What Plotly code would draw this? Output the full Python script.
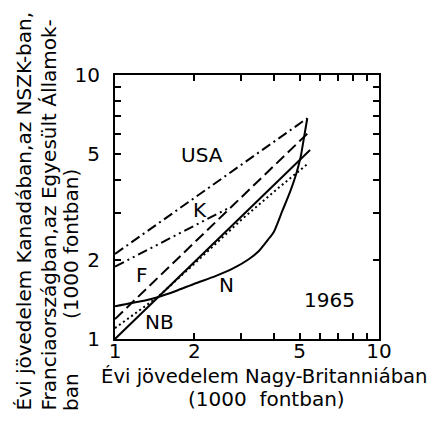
import math
import plotly.graph_objects as go

# Data, incomes in 1000 pounds
usa_x = [1.0, 5.35]
usa_y = [2.10, 6.86]

k_x = [1.0, 2.72]
k_y = [1.88, 3.15]

f_x = [1.0, 5.45]
f_y = [1.19, 6.10]

dot_x = [1.0, 1.2, 1.45, 2.0, 3.0, 4.1, 5.4]
dot_y = [1.10, 1.26, 1.44, 1.93, 2.82, 3.69, 4.63]

nb_x = [1.0, 5.48]
nb_y = [1.0, 5.20]

n_x = [1.0, 1.15, 1.3, 1.45, 1.7, 2.0, 2.4, 2.8, 3.2, 3.5, 3.8, 4.0, 4.3, 4.6, 4.85, 5.05, 5.2, 5.35]
n_y = [1.33, 1.37, 1.40, 1.44, 1.52, 1.62, 1.73, 1.85, 2.0, 2.15, 2.38, 2.55, 3.05, 3.6, 4.2, 4.9, 5.8, 6.86]

tick_vals = [1, 2, 3, 4, 5, 6, 7, 8, 9, 10]
tick_text = ["1", "2", "", "", "5", "", "", "", "", "10"]

label_text = ["USA", "K", "F", "N", "NB", "1965"]
label_x = [2.13, 2.10, 1.26, 2.65, 1.48, 6.52]
label_y = [4.98, 3.08, 1.75, 1.60, 1.16, 1.41]

FONT = "DejaVu Sans"
fig = go.Figure()
LW = 2
fig.add_trace(go.Scatter(x=usa_x, y=usa_y, mode="lines", line=dict(color="black", width=LW, dash="10px,4px,2px,4px")))
fig.add_trace(go.Scatter(x=k_x, y=k_y, mode="lines", line=dict(color="black", width=LW, dash="10px,4px,2px,4px,2px,4px")))
fig.add_trace(go.Scatter(x=f_x, y=f_y, mode="lines", line=dict(color="black", width=LW, dash="11px,5px")))
fig.add_trace(go.Scatter(x=dot_x, y=dot_y, mode="lines", line=dict(color="black", width=LW, dash="2px,3px")))
fig.add_trace(go.Scatter(x=nb_x, y=nb_y, mode="lines", line=dict(color="black", width=LW)))
fig.add_trace(go.Scatter(x=n_x, y=n_y, mode="lines", line=dict(color="black", width=LW, shape="spline", smoothing=0.6)))

for t, x, y in zip(label_text, label_x, label_y):
    fig.add_annotation(x=math.log10(x), y=math.log10(y), xref="x", yref="y", text=t,
                       showarrow=False, font=dict(family=FONT, size=20, color="black"))

axis_common = dict(type="log", range=[0, 1], showline=True, linecolor="black", linewidth=2, mirror="ticks",
                   ticks="inside", ticklen=6, tickwidth=1.5, tickcolor="black", tickvals=tick_vals, ticktext=tick_text,
                   showgrid=False, zeroline=False, automargin=False,
                   tickfont=dict(family=FONT, size=20, color="black"))
fig.update_xaxes(**axis_common, ticklabelstandoff=-7)
fig.update_yaxes(**axis_common, ticklabelstandoff=9)

# page body has an 8px margin; screen coords -> figure coords
FW, FH = 427, 415
L, T, W = 107, 67, 264
def px(sx):
    return (sx - 8 - L) / W
def py(sy):
    return (T + W - (sy - 8)) / W

tf = dict(family=FONT, size=20, color="black")
xf = dict(family=FONT, size=19.6, color="black")
fig.add_annotation(xref="paper", yref="paper", x=px(264), y=py(376), text="Évi jövedelem Nagy-Britanniában",
                   showarrow=False, xanchor="center", yanchor="middle", font=xf)
fig.add_annotation(xref="paper", yref="paper", x=px(266), y=py(399), text="(1000  fontban)",
                   showarrow=False, xanchor="center", yanchor="middle", font=tf)
fig.add_annotation(xref="paper", yref="paper", x=px(23), y=py(413), text="Évi jövedelem Kanadában,az NSZK-ban,",
                   showarrow=False, xanchor="center", yanchor="bottom", textangle=-90, font=tf)
fig.add_annotation(xref="paper", yref="paper", x=px(48), y=py(413), text="Franciaországban,az Egyesült Államok-",
                   showarrow=False, xanchor="center", yanchor="bottom", textangle=-90, font=tf)
fig.add_annotation(xref="paper", yref="paper", x=px(71), y=py(413), text="ban",
                   showarrow=False, xanchor="center", yanchor="bottom", textangle=-90, font=tf)
fig.add_annotation(xref="paper", yref="paper", x=px(71), y=py(244), text="(1000 fontban)",
                   showarrow=False, xanchor="center", yanchor="middle", textangle=-90, font=tf)

fig.update_layout(width=FW, height=FH, margin=dict(l=L, r=FW - L - W, t=T, b=FH - T - W, autoexpand=False),
                  plot_bgcolor="white", paper_bgcolor="white", showlegend=False)
fig.write_html("out.html")
